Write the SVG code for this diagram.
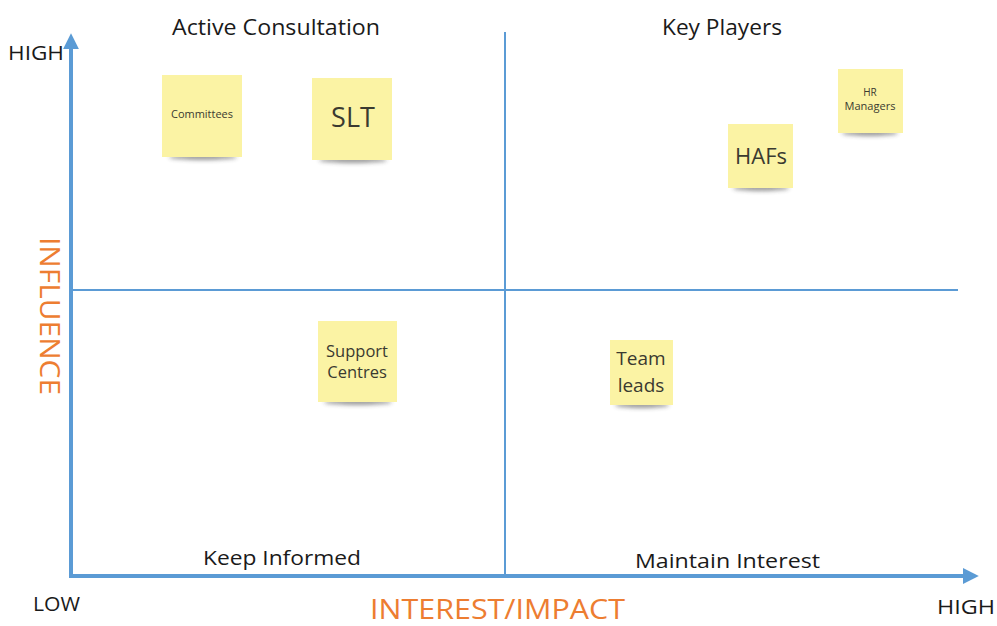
<svg xmlns="http://www.w3.org/2000/svg" width="997" height="626" viewBox="0 0 997 626">
<style>
.t{font-family:"Open Sans","Liberation Sans",sans-serif;fill:#1a1a1a}
.o{font-family:"Open Sans","Liberation Sans",sans-serif;fill:#ed7d31}
.n{fill:#fbf3a4}
.nt{font-family:"Open Sans","Liberation Sans",sans-serif;fill:#3a3a30;text-anchor:middle}
.ax{stroke:#5b9bd5;stroke-width:4;fill:none}
.ln{stroke:#5b9bd5;stroke-width:2;fill:none}
</style>
<defs>
<filter id="sh" x="-30%" y="-100%" width="160%" height="300%"><feGaussianBlur stdDeviation="2"/></filter>
<marker id="ah" viewBox="0 0 10 10" refX="2" refY="5" markerWidth="4" markerHeight="4" orient="auto" markerUnits="strokeWidth"><path d="M0,0 L10,5 L0,10 z" fill="#5b9bd5"/></marker>
</defs>
<rect width="997" height="626" fill="#fff"/>
<g id="connectors">
<line class="ax" x1="71" y1="578" x2="71" y2="46" marker-end="url(#ah)"/>
<line class="ax" x1="69" y1="576" x2="966" y2="576" marker-end="url(#ah)"/>
<line class="ln" x1="505" y1="32" x2="505" y2="577"/>
<line class="ln" x1="72" y1="290" x2="958" y2="290"/>
</g>
<g id="labels">
<text class="t" x="8" y="60" font-size="20" textLength="56" lengthAdjust="spacingAndGlyphs">HIGH</text>
<text class="t" x="172" y="35" font-size="21" textLength="208" lengthAdjust="spacingAndGlyphs">Active Consultation</text>
<text class="t" x="662" y="35" font-size="21" textLength="120" lengthAdjust="spacingAndGlyphs">Key Players</text>
<text class="t" x="203" y="565" font-size="20" textLength="158" lengthAdjust="spacingAndGlyphs">Keep Informed</text>
<text class="t" x="635" y="568" font-size="20" textLength="185" lengthAdjust="spacingAndGlyphs">Maintain Interest</text>
<text class="t" x="33" y="611" font-size="20" textLength="47" lengthAdjust="spacingAndGlyphs">LOW</text>
<text class="t" x="937" y="614" font-size="20" textLength="58" lengthAdjust="spacingAndGlyphs">HIGH</text>
<text class="o" x="370" y="619" font-size="28" textLength="255" lengthAdjust="spacingAndGlyphs">INTEREST/IMPACT</text>
<text class="o" x="0" y="0" font-size="28" textLength="158" lengthAdjust="spacingAndGlyphs" transform="translate(40,237) rotate(90)">INFLUENCE</text>
</g>
<g id="committees">
<ellipse cx="203" cy="157" rx="34" ry="3" fill="#333" opacity="0.5" filter="url(#sh)"/>
<rect class="n" x="162" y="75" width="80" height="82"/>
<text class="nt" x="202" y="118" font-size="10.5" textLength="62" lengthAdjust="spacingAndGlyphs">Committees</text>
</g>
<g id="slt">
<ellipse cx="353" cy="160" rx="34" ry="3" fill="#333" opacity="0.5" filter="url(#sh)"/>
<rect class="n" x="312" y="78" width="80" height="82"/>
<text class="nt" x="353" y="127" font-size="27">SLT</text>
</g>
<g id="hafs">
<ellipse cx="761" cy="188" rx="28" ry="3" fill="#333" opacity="0.5" filter="url(#sh)"/>
<rect class="n" x="728" y="124" width="65" height="64"/>
<text class="nt" x="761" y="164" font-size="22">HAFs</text>
</g>
<g id="hr-managers">
<ellipse cx="870" cy="133" rx="28" ry="3" fill="#333" opacity="0.5" filter="url(#sh)"/>
<rect class="n" x="838" y="69" width="65" height="64"/>
<text class="nt" x="870" y="96" font-size="10">HR</text>
<text class="nt" x="870" y="110" font-size="10" textLength="51" lengthAdjust="spacingAndGlyphs">Managers</text>
</g>
<g id="support-centres">
<ellipse cx="358" cy="402" rx="34" ry="3" fill="#333" opacity="0.5" filter="url(#sh)"/>
<rect class="n" x="318" y="321" width="79" height="81"/>
<text class="nt" x="357" y="357" font-size="16.5">Support</text>
<text class="nt" x="357" y="378" font-size="16.5">Centres</text>
</g>
<g id="team-leads">
<ellipse cx="642" cy="405" rx="27" ry="3" fill="#333" opacity="0.5" filter="url(#sh)"/>
<rect class="n" x="610" y="340" width="63" height="65"/>
<text class="nt" x="641" y="365" font-size="19">Team</text>
<text class="nt" x="641" y="392" font-size="19">leads</text>
</g>
</svg>
